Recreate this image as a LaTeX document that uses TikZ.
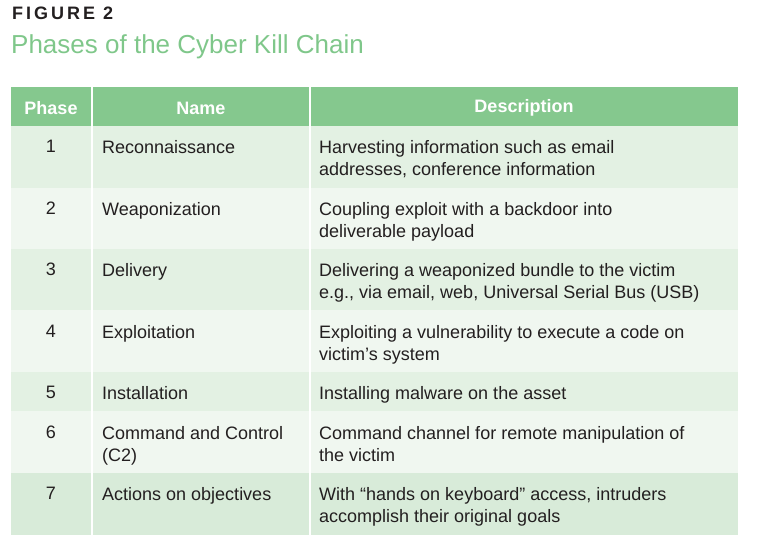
\documentclass[tikz,border=0pt]{standalone}
\usepackage{fontspec}
\setmainfont{Liberation Sans}
\definecolor{hdr}{HTML}{85C88E}
\definecolor{rowa}{HTML}{E3F1E3}
\definecolor{rowb}{HTML}{F0F7F0}
\definecolor{rowc}{HTML}{D8EBD9}
\definecolor{ttl}{HTML}{7FC78A}
\definecolor{txt}{HTML}{231F20}
\tikzset{
 cell/.style={anchor=north west,align=left,inner sep=0pt,text=txt,font=\fontsize{18}{22}\selectfont},
 num/.style={anchor=north,inner sep=0pt,text=txt,font=\fontsize{18}{22}\selectfont},
 hd/.style={inner sep=0pt,text=white,font=\bfseries\fontsize{18}{22}\selectfont}
}
\begin{document}
\begin{tikzpicture}[x=1pt,y=-1pt]
\useasboundingbox (0,0) rectangle (757,545);
\node[anchor=north west,inner sep=0pt,font=\bfseries\fontsize{18}{20}\selectfont,text=txt] (fig) at (12,7) {F\,I\,G\,U\,R\,E\,\ 2};
\node[anchor=north west,inner sep=0pt,font=\fontsize{26}{30}\selectfont,text=ttl] (title) at (11,34) {Phases of the Cyber Kill Chain};
% backgrounds
\fill[hdr] (11,87) rectangle (738,126);
\fill[rowa] (11,126) rectangle (738,188);
\fill[rowb] (11,188) rectangle (738,249);
\fill[rowa] (11,249) rectangle (738,310);
\fill[rowb] (11,310) rectangle (738,372);
\fill[rowa] (11,372) rectangle (738,411);
\fill[rowb] (11,411) rectangle (738,473);
\fill[rowc] (11,473) rectangle (738,535);
\fill[white] (91,87) rectangle (93,535);
\fill[white] (309,87) rectangle (311,535);
% header
\node[hd] (h1) at (51,108) {Phase};
\node[hd] (h2) at (201,108) {Name};
\node[hd] (h3) at (524,108) {Description};
% rows
\def\rowtops{}
\node[num] (n1) at (51,140) {1};
\node[cell] (a1) at (102,140) {Reconnaissance};
\node[cell] (d1) at (319,140) {Harvesting information such as email\\addresses, conference information};
\node[num] (n2) at (51,202) {2};
\node[cell] (a2) at (102,202) {Weaponization};
\node[cell] (d2) at (319,202) {Coupling exploit with a backdoor into\\deliverable payload};
\node[num] (n3) at (51,263) {3};
\node[cell] (a3) at (102,263) {Delivery};
\node[cell] (d3) at (319,263) {Delivering a weaponized bundle to the victim\\e.g., via email, web, Universal Serial Bus (USB)};
\node[num] (n4) at (51,325) {4};
\node[cell] (a4) at (102,325) {Exploitation};
\node[cell] (d4) at (319,325) {Exploiting a vulnerability to execute a code on\\victim’s system};
\node[num] (n5) at (51,386) {5};
\node[cell] (a5) at (102,386) {Installation};
\node[cell] (d5) at (319,386) {Installing malware on the asset};
\node[num] (n6) at (51,426) {6};
\node[cell] (a6) at (102,426) {Command and Control\\(C2)};
\node[cell] (d6) at (319,426) {Command channel for remote manipulation of\\the victim};
\node[num] (n7) at (51,487) {7};
\node[cell] (a7) at (102,487) {Actions on objectives};
\node[cell] (d7) at (319,487) {With “hands on keyboard” access, intruders\\accomplish their original goals};
\end{tikzpicture}
\end{document}
